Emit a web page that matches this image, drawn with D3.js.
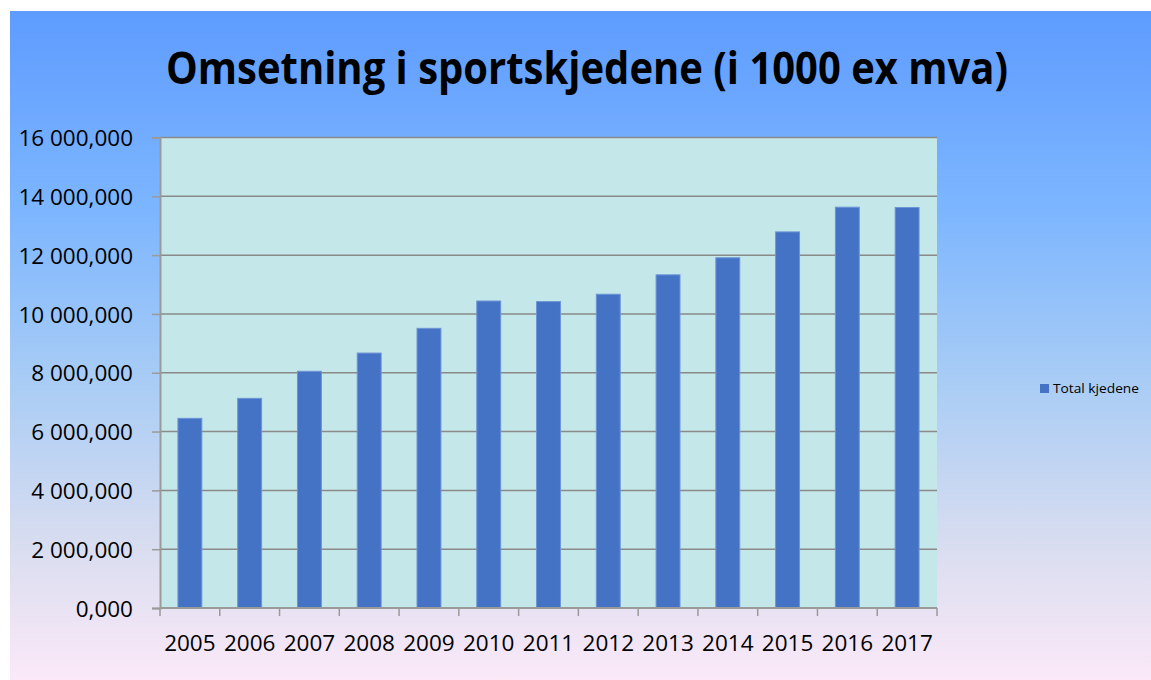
<!DOCTYPE html>
<html>
<head>
<meta charset="utf-8">
<script src="https://cdn.jsdelivr.net/npm/d3@7"></script>
<style>
  html, body { margin: 0; padding: 0; background: #ffffff; }
  svg { display: block; }
</style>
</head>
<body>
<svg id="chart" width="1151" height="680"></svg>
<script>
const title = "Omsetning i sportskjedene (i 1000 ex mva)";
const seriesName = "Total kjedene";
const years = ["2005","2006","2007","2008","2009","2010","2011","2012","2013","2014","2015","2016","2017"];
const totals = [6450, 7130, 8050, 8670, 9510, 10440, 10420, 10670, 11330, 11910, 12790, 13630, 13620];
const yTicks = [0, 2000, 4000, 6000, 8000, 10000, 12000, 14000, 16000];

const svg = d3.select("#chart");
const W = 1151, H = 680;
const plot = { left: 160, top: 137.5, right: 937, bottom: 608 };

// background gradient
const defs = svg.append("defs");
const grad = defs.append("linearGradient").attr("id", "bg").attr("x1", 0).attr("y1", 0).attr("x2", 0).attr("y2", 1);
[["0%", "#5e9cff"], ["30%", "#7db6ff"], ["55%", "#a8ccf5"], ["80%", "#d9ddf0"], ["100%", "#fbe9f8"]]
  .forEach(([o, c]) => grad.append("stop").attr("offset", o).attr("stop-color", c));
svg.append("rect").attr("x", 10).attr("y", 11).attr("width", W - 10).attr("height", H - 11).attr("fill", "url(#bg)");

// title
svg.append("text")
  .attr("x", 587).attr("y", 84)
  .attr("text-anchor", "middle")
  .attr("font-family", "'Open Sans', sans-serif")
  .attr("font-weight", "bold")
  .attr("font-size", 44)
  .attr("textLength", 842)
  .attr("lengthAdjust", "spacingAndGlyphs")
  .attr("fill", "#000")
  .text(title);

const x = d3.scaleBand().domain(years).range([plot.left, plot.right]).paddingInner(0.6).paddingOuter(0.3);
const y = d3.scaleLinear().domain([0, 16000]).range([plot.bottom, plot.top]);

const loc = d3.formatLocale({ decimal: ",", thousands: " ", grouping: [3], currency: ["", ""] });
const fmt = loc.format(",.3f");

// plot area
svg.append("rect")
  .attr("x", plot.left).attr("y", plot.top)
  .attr("width", plot.right - plot.left).attr("height", plot.bottom - plot.top)
  .attr("fill", "#c4e7e9");

// gridlines
svg.append("g").selectAll("line").data(yTicks.filter(d => d > 0)).join("line")
  .attr("x1", plot.left).attr("x2", plot.right)
  .attr("y1", d => y(d)).attr("y2", d => y(d))
  .attr("stroke", "#8a8a8a").attr("stroke-width", 1.5);

// bars
svg.append("g").selectAll("rect").data(years).join("rect")
  .attr("x", d => x(d))
  .attr("width", x.bandwidth())
  .attr("y", (d, i) => y(totals[i]))
  .attr("height", (d, i) => y(0) - y(totals[i]))
  .attr("fill", "#4472c4")
  .attr("stroke", "#6e95d6")
  .attr("stroke-width", 1);

// y axis
const yAxis = d3.axisLeft(y).tickValues(yTicks).tickFormat(fmt).tickSize(8).tickPadding(19);
const gy = svg.append("g").attr("transform", `translate(${plot.left},0)`).call(yAxis);
gy.select(".domain").attr("stroke", "#9a9a9a").attr("stroke-width", 2);
gy.selectAll(".tick line").attr("stroke", "#9a9a9a").attr("stroke-width", 1.5);
gy.selectAll(".tick text")
  .attr("font-family", "'Open Sans', sans-serif")
  .attr("font-size", 22.5)
  .attr("fill", "#000")
  .attr("dy", "0.36em");

// x axis
const xTickScale = d3.scaleLinear().domain([0, years.length]).range([plot.left, plot.right]);
const gx = svg.append("g").attr("transform", `translate(0,${plot.bottom})`);
gx.append("line").attr("x1", plot.left).attr("x2", plot.right).attr("y1", 0).attr("y2", 0)
  .attr("stroke", "#9a9a9a").attr("stroke-width", 2);
gx.selectAll("line.tk").data(d3.range(years.length + 1)).join("line").attr("class", "tk")
  .attr("x1", d => xTickScale(d)).attr("x2", d => xTickScale(d))
  .attr("y1", 0).attr("y2", 8)
  .attr("stroke", "#9a9a9a").attr("stroke-width", 1.5);
gx.selectAll("text").data(years).join("text")
  .attr("x", d => x(d) + x.bandwidth() / 2)
  .attr("y", 43)
  .attr("text-anchor", "middle")
  .attr("font-family", "'Open Sans', sans-serif")
  .attr("font-size", 22.5)
  .attr("fill", "#000")
  .text(d => d);

// legend
const lg = svg.append("g").attr("transform", "translate(1040,384)");
lg.append("rect").attr("width", 9).attr("height", 9).attr("fill", "#4472c4");
lg.append("text").attr("x", 13).attr("y", 5).attr("dy", "0.35em")
  .attr("font-family", "'Open Sans', sans-serif")
  .attr("font-size", 12.5)
  .attr("textLength", 86)
  .attr("lengthAdjust", "spacingAndGlyphs")
  .attr("fill", "#000")
  .text(seriesName);
</script>
</body>
</html>
